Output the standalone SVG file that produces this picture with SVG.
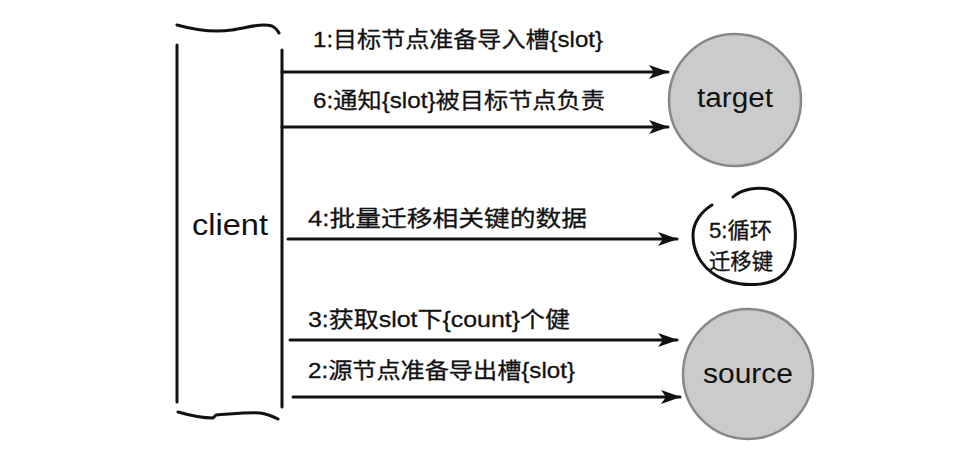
<svg xmlns="http://www.w3.org/2000/svg" width="959" height="458" viewBox="0 0 959 458">
<style>
.lbl{font-family:"Liberation Sans","Noto Sans CJK SC",sans-serif;font-size:22px;fill:#111;stroke:#111;stroke-width:0.3}
.big{font-family:"Liberation Sans",sans-serif;fill:#111}
.ink{fill:none;stroke:#111;stroke-width:3;stroke-linecap:round;stroke-linejoin:round}
.node{fill:#cbcbcb;stroke:#888;stroke-width:2.5}
</style>
<defs>
<marker id="ahl" markerWidth="20" markerHeight="16" refX="19" refY="8" orient="auto" markerUnits="userSpaceOnUse">
<path d="M0,1 L20,8 L0,15 L5,8 Z" fill="#111"/>
</marker>
</defs>
<rect width="959" height="458" fill="#fff"/>
<g id="client">
<path class="ink" d="M177,45 L177,402"/>
<path class="ink" d="M282,50 L282,407"/>
<path class="ink" d="M177,25 C195,30 212,33 232,30 C250,27 262,23 272,26 C276,28 278,31 279,33"/>
<path class="ink" d="M178,412 C192,416 204,418 213,418 L216,415 C232,414 248,412 260,413 C268,414 274,417 278,419"/>
<text class="big" x="192" y="235" font-size="30" textLength="76" lengthAdjust="spacingAndGlyphs">client</text>
</g>
<g id="target">
<circle class="node" cx="735" cy="100" r="66"/>
<text class="big" x="735" y="107" font-size="27" text-anchor="middle" textLength="76" lengthAdjust="spacingAndGlyphs">target</text>
</g>
<g id="source">
<circle class="node" cx="748" cy="374" r="65"/>
<text class="big" x="748" y="383" font-size="28" text-anchor="middle" textLength="90" lengthAdjust="spacingAndGlyphs">source</text>
</g>
<g id="loop">
<path class="ink" d="M733,197 C742,189 758,186 772,190 C786,196 794,210 795,228 C797,248 792,268 780,277 C768,286 745,287 725,280 C705,272 693,255 693,235 C693,222 702,211 712,205"/>
<text class="lbl" x="709" y="238" font-size="20" textLength="63" lengthAdjust="spacingAndGlyphs">5:循环</text>
<text class="lbl" x="709" y="269" font-size="20" textLength="64" lengthAdjust="spacingAndGlyphs">迁移键</text>
</g>
<g id="connectors">
<path class="ink" d="M282,72 L668,72" marker-end="url(#ahl)"/>
<path class="ink" d="M282,127 L668,127" marker-end="url(#ahl)"/>
<path class="ink" d="M288,239 L677,239" marker-end="url(#ahl)"/>
<path class="ink" d="M290,340 L677,340" marker-end="url(#ahl)"/>
<path class="ink" d="M293,397 L680,397" marker-end="url(#ahl)"/>
</g>
<g id="labels">
<text class="lbl" x="313" y="47" textLength="290" lengthAdjust="spacingAndGlyphs">1:目标节点准备导入槽{slot}</text>
<text class="lbl" x="313" y="108" textLength="292" lengthAdjust="spacingAndGlyphs">6:通知{slot}被目标节点负责</text>
<text class="lbl" x="308" y="226" textLength="279" lengthAdjust="spacingAndGlyphs">4:批量迁移相关键的数据</text>
<text class="lbl" x="308" y="327" textLength="262" lengthAdjust="spacingAndGlyphs">3:获取slot下{count}个健</text>
<text class="lbl" x="308" y="378" textLength="267" lengthAdjust="spacingAndGlyphs">2:源节点准备导出槽{slot}</text>
</g>
</svg>
